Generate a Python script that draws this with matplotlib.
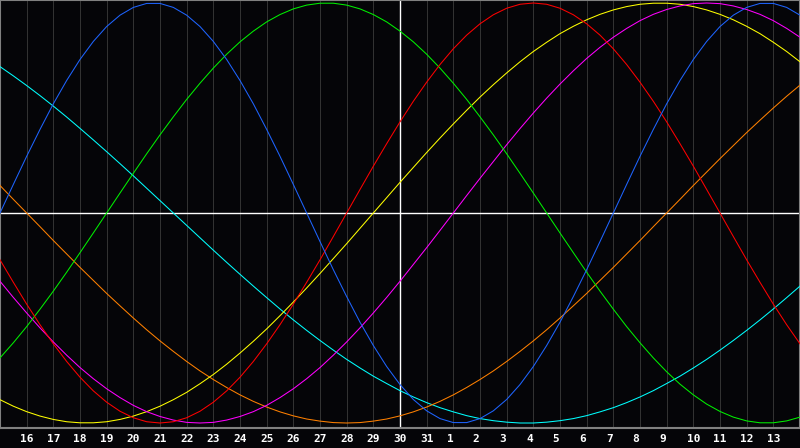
import matplotlib
matplotlib.use('Agg')
import matplotlib.pyplot as plt

# 日付ラベル（中央が今日 = 30日）
day_labels = [15, 16, 17, 18, 19, 20, 21, 22, 23, 24, 25, 26, 27, 28, 29, 30, 31,
              1, 2, 3, 4, 5, 6, 7, 8, 9, 10, 11, 12, 13, 14]
today_idx = 15
steps_per_day = 2  # 半日ごとの値

# 各周期の値（半日ごと、画像から読み取り）
physical_23 = [0.000, 0.136, 0.270, 0.398, 0.520, 0.631, 0.731, 0.817, 0.888, 0.942, 0.979, 0.998,
               0.998, 0.979, 0.942, 0.888, 0.817, 0.731, 0.631, 0.520, 0.398, 0.270, 0.136, 0.000,
               -0.136, -0.270, -0.398, -0.520, -0.631, -0.731, -0.817, -0.888, -0.942, -0.979, -0.998,
               -0.998, -0.979, -0.942, -0.888, -0.817, -0.731, -0.631, -0.520, -0.398, -0.270, -0.136,
               0.000, 0.136, 0.270, 0.398, 0.520, 0.631, 0.731, 0.817, 0.888, 0.942, 0.979, 0.998,
               0.998, 0.979, 0.942]
emotional_28 = [-0.223, -0.330, -0.434, -0.532, -0.623, -0.707, -0.782, -0.847, -0.901, -0.944, -0.975, -0.994,
                -1.000, -0.994, -0.975, -0.944, -0.901, -0.847, -0.782, -0.707, -0.623, -0.532, -0.434, -0.330,
                -0.223, -0.112, 0.000, 0.112, 0.223, 0.330, 0.434, 0.532, 0.623, 0.707, 0.782, 0.847,
                0.901, 0.944, 0.975, 0.994, 1.000, 0.994, 0.975, 0.944, 0.901, 0.847, 0.782, 0.707,
                0.623, 0.532, 0.434, 0.330, 0.223, 0.112, 0.000, -0.112, -0.223, -0.330, -0.434, -0.532,
                -0.623]
intellectual_33 = [-0.690, -0.618, -0.541, -0.458, -0.372, -0.282, -0.189, -0.095, 0.000, 0.095, 0.189, 0.282,
                   0.372, 0.458, 0.541, 0.618, 0.690, 0.756, 0.815, 0.866, 0.910, 0.945, 0.972, 0.990,
                   0.999, 0.999, 0.990, 0.972, 0.945, 0.910, 0.866, 0.815, 0.756, 0.690, 0.618, 0.541,
                   0.458, 0.372, 0.282, 0.189, 0.095, 0.000, -0.095, -0.189, -0.282, -0.372, -0.458, -0.541,
                   -0.618, -0.690, -0.756, -0.815, -0.866, -0.910, -0.945, -0.972, -0.990, -0.999, -0.999, -0.990,
                   -0.972]
intuitive_38 = [-0.325, -0.402, -0.476, -0.547, -0.614, -0.677, -0.736, -0.789, -0.837, -0.879, -0.916, -0.946,
                -0.969, -0.986, -0.997, -1.000, -0.997, -0.986, -0.969, -0.946, -0.916, -0.879, -0.837, -0.789,
                -0.736, -0.677, -0.614, -0.547, -0.476, -0.402, -0.325, -0.245, -0.165, -0.083, 0.000, 0.083,
                0.165, 0.245, 0.325, 0.402, 0.476, 0.547, 0.614, 0.677, 0.736, 0.789, 0.837, 0.879,
                0.916, 0.946, 0.969, 0.986, 0.997, 1.000, 0.997, 0.986, 0.969, 0.946, 0.916, 0.879,
                0.837]
aesthetic_43 = [-0.889, -0.920, -0.946, -0.967, -0.983, -0.994, -0.999, -0.999, -0.994, -0.983, -0.967, -0.946,
                -0.920, -0.889, -0.854, -0.813, -0.769, -0.720, -0.667, -0.611, -0.552, -0.489, -0.424, -0.357,
                -0.288, -0.217, -0.146, -0.073, 0.000, 0.073, 0.146, 0.217, 0.288, 0.357, 0.424, 0.489,
                0.552, 0.611, 0.667, 0.720, 0.769, 0.813, 0.854, 0.889, 0.920, 0.946, 0.967, 0.983,
                0.994, 0.999, 0.999, 0.994, 0.983, 0.967, 0.946, 0.920, 0.889, 0.854, 0.813, 0.769,
                0.720]
awareness_48 = [0.131, 0.065, 0.000, -0.065, -0.131, -0.195, -0.259, -0.321, -0.383, -0.442, -0.500, -0.556,
                -0.609, -0.659, -0.707, -0.752, -0.793, -0.831, -0.866, -0.897, -0.924, -0.947, -0.966, -0.981,
                -0.991, -0.998, -1.000, -0.998, -0.991, -0.981, -0.966, -0.947, -0.924, -0.897, -0.866, -0.831,
                -0.793, -0.752, -0.707, -0.659, -0.609, -0.556, -0.500, -0.442, -0.383, -0.321, -0.259, -0.195,
                -0.131, -0.065, 0.000, 0.065, 0.131, 0.195, 0.259, 0.321, 0.383, 0.442, 0.500, 0.556,
                0.609]
spiritual_53 = [0.697, 0.653, 0.607, 0.559, 0.509, 0.457, 0.403, 0.348, 0.292, 0.235, 0.177, 0.118,
                0.059, 0.000, -0.059, -0.118, -0.177, -0.235, -0.292, -0.348, -0.403, -0.457, -0.509, -0.559,
                -0.607, -0.653, -0.697, -0.738, -0.777, -0.812, -0.846, -0.876, -0.903, -0.927, -0.947, -0.965,
                -0.979, -0.989, -0.996, -1.000, -1.000, -0.996, -0.989, -0.979, -0.965, -0.947, -0.927, -0.903,
                -0.876, -0.846, -0.812, -0.777, -0.738, -0.697, -0.653, -0.607, -0.559, -0.509, -0.457, -0.403,
                -0.348]

series = [spiritual_53, awareness_48, aesthetic_43, intuitive_38,
          intellectual_33, emotional_28, physical_23]
colors = ['#00ffff', '#ff8000', '#ffff00', '#ff00ff',
          '#00f000', '#ff0000', '#1e64ff']

bg = '#050508'
fig = plt.figure(figsize=(8, 4.48), dpi=100, facecolor=bg)
ax = fig.add_axes([0, 20 / 448, 1, 428 / 448])
ax.set_facecolor(bg)

days = list(range(len(day_labels)))
xs = [i / steps_per_day for i in range(len(physical_23))]

# グリッド
for i in days:
    ax.axvline(i, color='#323232', lw=0.75, zorder=1)
ax.axhline(0, color='white', lw=1.0, zorder=2)
ax.axvline(today_idx, color='white', lw=1.0, zorder=2)

for vals, c in zip(series, colors):
    ax.plot(xs, vals, color=c, lw=0.75, zorder=3)

ax.set_xlim(0, len(day_labels) - 1)
ax.set_ylim(-(428 - 213) / 210, 1 + 3 / 210)

ax.set_yticks([])
ax.set_xticks(days[1:-1])
ax.set_xticklabels([str(d).ljust(2) for d in day_labels[1:-1]],
                   family='DejaVu Sans Mono', fontweight='bold',
                   fontsize=8, color='white')
ax.tick_params(axis='x', length=0, pad=4)

for s in ['top', 'left', 'bottom', 'right']:
    ax.spines[s].set_color('#808080')
    ax.spines[s].set_linewidth(1.5)

fig.savefig('out.png', dpi=100, facecolor=bg)
